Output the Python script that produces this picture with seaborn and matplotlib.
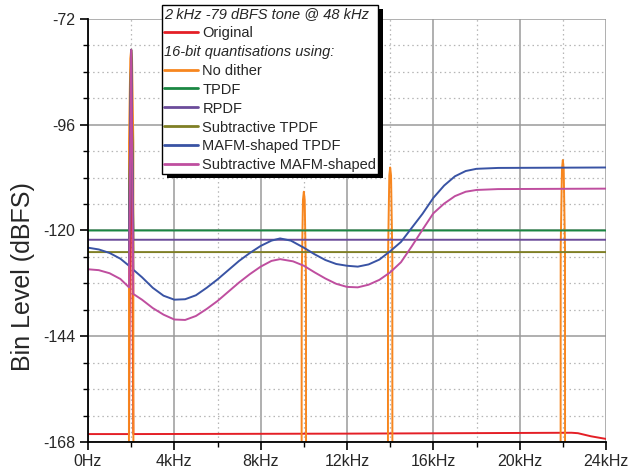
import numpy as np
import pandas as pd
import seaborn as sns
import matplotlib
matplotlib.use("Agg")
import matplotlib.pyplot as plt
from matplotlib.lines import Line2D
from matplotlib.patches import Rectangle
from matplotlib.transforms import IdentityTransform
from matplotlib.ticker import MultipleLocator, FixedLocator, FixedFormatter

# ---- data (frequency in kHz, level in dBFS) ----
original_f = [0.0, 1.9, 2.0, 2.1, 12.0, 22.4, 22.7, 23.3, 24.0]
original_db = [-166.2, -166.2, -79.0, -166.2, -166.1, -165.9, -166.0, -166.7, -167.3]

# undithered: only the tone and its distortion products survive, everything else is digital silence
nodither_f = [0.0, 1.89, 1.9, 1.96, 2.0, 2.04, 2.1, 2.11,
              9.89, 9.9, 9.96, 10.0, 10.04, 10.1, 10.11,
              13.89, 13.9, 13.96, 14.0, 14.04, 14.1, 14.11,
              21.89, 21.9, 21.96, 22.0, 22.04, 22.1, 22.11, 24.0]
nodither_db = [-300, -300, -100, -81, -79.0, -81, -100, -300,
               -300, -131, -113, -111.2, -113, -131, -300,
               -300, -126, -107.5, -105.7, -107.5, -126, -300,
               -300, -124, -106, -104.0, -106, -124, -300, -300]

tpdf_f = [0.0, 1.9, 2.0, 2.1, 24.0]
tpdf_db = [-120.0, -120.0, -79.0, -120.0, -120.0]

rpdf_f = [0.0, 1.9, 2.0, 2.1, 24.0]
rpdf_db = [-122.1, -122.1, -79.0, -122.1, -122.1]

subtpdf_f = [0.0, 1.9, 2.0, 2.1, 24.0]
subtpdf_db = [-124.9, -124.9, -79.0, -124.9, -124.9]

mafm_f = [0.0, 0.5, 1.0, 1.5, 1.9, 2.0, 2.1, 2.5, 3.0, 3.5, 4.0, 4.5, 5.0, 5.5,
          6.0, 6.5, 7.0, 7.5, 8.0, 8.5, 8.9, 9.4, 10.0, 10.5, 11.0, 11.5, 12.0,
          12.5, 13.0, 13.5, 14.0, 14.5, 15.0, 15.5, 16.0, 16.5, 17.0, 17.5, 18.0,
          19.0, 24.0]
mafm_db = [-123.9, -124.3, -125.1, -126.4, -128.0, -79.0, -128.9, -130.6, -133.0,
           -134.8, -135.7, -135.6, -134.7, -133.0, -131.1, -129.0, -126.9, -125.1,
           -123.5, -122.3, -121.8, -122.3, -123.9, -125.4, -126.7, -127.6, -128.0,
           -128.2, -127.7, -126.6, -124.7, -122.6, -119.4, -116.2, -112.6, -109.8,
           -107.7, -106.5, -106.0, -105.8, -105.7]

submafm_f = [0.0, 0.5, 1.0, 1.5, 1.9, 2.0, 2.1, 2.5, 3.0, 3.5, 4.0, 4.5, 5.0, 5.5,
             6.0, 6.5, 7.0, 7.5, 8.0, 8.5, 8.9, 9.5, 10.0, 10.5, 11.0, 11.5, 12.0,
             12.5, 13.0, 13.5, 14.0, 14.5, 15.0, 15.5, 16.0, 16.5, 17.0, 17.5,
             18.0, 19.0, 24.0]
submafm_db = [-128.8, -129.0, -129.7, -131.0, -132.9, -79.0, -134.4, -135.7, -137.6,
              -139.1, -140.2, -140.3, -139.4, -137.8, -136.0, -133.9, -131.8, -129.9,
              -128.2, -126.9, -126.5, -127.0, -128.0, -129.5, -130.9, -132.1, -132.8,
              -132.9, -132.3, -131.2, -129.5, -127.2, -123.6, -119.8, -116.1, -113.9,
              -112.2, -111.2, -110.8, -110.6, -110.5]

series_names = ["Original", "No dither", "TPDF", "RPDF", "Subtractive TPDF",
                "MAFM-shaped TPDF", "Subtractive MAFM-shaped"]
series_freq = [original_f, nodither_f, tpdf_f, rpdf_f, subtpdf_f, mafm_f, submafm_f]
series_level = [original_db, nodither_db, tpdf_db, rpdf_db, subtpdf_db, mafm_db, submafm_db]
series_colors = ["#e41f26", "#f7861f", "#1b8743", "#6b4c9a", "#7f7f25", "#3953a4", "#bf4e9f"]

x_ticks = [0, 4, 8, 12, 16, 20, 24]
x_tick_labels = ["0Hz", "4kHz", "8kHz", "12kHz", "16kHz", "20kHz", "24kHz"]
y_ticks = [-168, -144, -120, -96, -72]
y_tick_labels = ["-168", "-144", "-120", "-96", "-72"]

header_tone = "2 kHz -79 dBFS tone @ 48 kHz"
header_quant = "16-bit quantisations using:"

# ---- long-form table for seaborn ----
frames = []
for name, f, v in zip(series_names, series_freq, series_level):
    frames.append(pd.DataFrame({"freq": f, "level": v, "series": name}))
df = pd.concat(frames, ignore_index=True)

sns.set_style("white")
plt.rcParams["font.family"] = ["Liberation Sans", "DejaVu Sans"]

W, H = 644, 472
fig = plt.figure(figsize=(W / 100, H / 100), dpi=100)
ax = fig.add_axes([88 / W, 1 - 442 / H, (606 - 88) / W, (442 - 19) / H])

palette = dict(zip(series_names, series_colors))
sns.lineplot(data=df, x="freq", y="level", hue="series", hue_order=series_names,
             palette=palette, estimator=None, sort=True, legend=False,
             linewidth=1.4, ax=ax)

ax.set_xlim(0, 24)
ax.set_ylim(-168, -72)

ax.xaxis.set_major_locator(FixedLocator(x_ticks))
ax.xaxis.set_major_formatter(FixedFormatter(x_tick_labels))
ax.xaxis.set_minor_locator(MultipleLocator(2))
ax.yaxis.set_major_locator(FixedLocator(y_ticks))
ax.yaxis.set_major_formatter(FixedFormatter(y_tick_labels))
ax.yaxis.set_minor_locator(MultipleLocator(6))

ax.grid(which="major", color="#9a9a9a", linewidth=1.1, linestyle="-")
ax.grid(which="minor", color="#b5b5b5", linewidth=0.9, linestyle=(0, (1.2, 2.5)))
ax.set_axisbelow(True)

for side in ("top", "right"):
    ax.spines[side].set_visible(False)
for side in ("left", "bottom"):
    ax.spines[side].set_color("black")
    ax.spines[side].set_linewidth(1.3)
    ax.spines[side].set_zorder(3)

ax.tick_params(which="major", direction="out", length=6, width=1.2, color="black",
               labelsize=11.5, pad=3, left=True, bottom=True)
ax.tick_params(which="minor", direction="out", length=3.5, width=1.0, color="black",
               left=True, bottom=True)

ax.set_xlabel("")
ax.set_ylabel("Bin Level (dBFS)", fontsize=18)
ax.yaxis.set_label_coords(-0.103, 0.39)

# ---- legend with two italic header rows ----
lines = ax.get_lines()[: len(series_names)]
blank = Line2D([], [], linestyle="none")
handles = [blank, lines[0], blank] + list(lines[1:])
labels = [header_tone, series_names[0], header_quant] + series_names[1:]

leg = ax.legend(handles, labels, loc="upper left",
                bbox_to_anchor=(162 / W, 1 - 5 / H), bbox_transform=fig.transFigure,
                borderaxespad=0, fontsize=10.5, frameon=True, fancybox=False,
                framealpha=1, edgecolor="black", handlelength=2.35,
                handletextpad=0.3, borderpad=0.12, labelspacing=0.34)
leg.get_frame().set_linewidth(1.0)
leg.set_zorder(6)
for ln in leg.get_lines():
    ln.set_linewidth(2.0)

# header rows: drop the handle slot so the text starts at the frame edge
for column in leg._legend_handle_box.get_children():
    for row in column.get_children():
        parts = row.get_children()
        txt = parts[1].get_children()[0].get_text()
        if txt in (header_tone, header_quant):
            parts[1].get_children()[0].set_fontstyle("italic")
            row._children = [parts[1]]

# solid drop shadow behind the legend frame
fig.canvas.draw()
bb = leg.get_frame().get_window_extent()
shadow = Rectangle((bb.x0 + 5, bb.y0 - 4), bb.width, bb.height,
                   transform=IdentityTransform(), facecolor="black",
                   edgecolor="none", zorder=5.9, clip_on=False)
ax.add_artist(shadow)

fig.savefig("out.png", dpi=100)
